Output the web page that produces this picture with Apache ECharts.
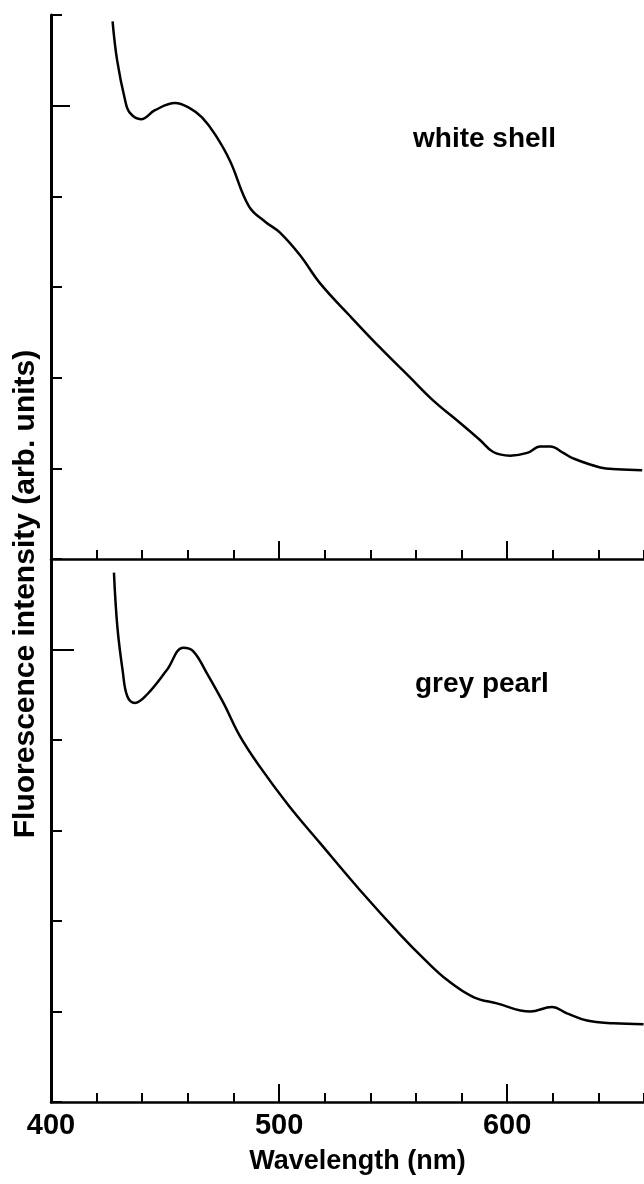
<!DOCTYPE html>
<html>
<head>
<meta charset="utf-8">
<script src="https://cdn.jsdelivr.net/npm/echarts@6/dist/echarts.min.js"></script>
<style>
  html, body { margin: 0; padding: 0; background: #fff; }
  #chart { width: 644px; height: 1184px; }
</style>
</head>
<body>
<div id="chart"></div>
<script>
// white shell spectrum (nm / arb. units)
const shellWavelength = [427, 429, 432.5, 434.6, 439.5, 445.6, 454.4, 461, 466.2, 472, 478.5, 486.8, 493.9, 500.4, 509.2, 518, 531.1, 544.3, 557.5, 567.5, 579.4, 588.2, 593.9, 601.3, 608.8, 614.5, 618.9, 624.6, 628.9, 640.8, 648.2, 659.2];
const shellIntensity = [5.93, 5.5, 5.06, 4.92, 4.85, 4.95, 5.03, 4.97, 4.87, 4.68, 4.39, 3.89, 3.72, 3.6, 3.35, 3.04, 2.68, 2.33, 2.0, 1.75, 1.5, 1.31, 1.18, 1.14, 1.17, 1.24, 1.24, 1.17, 1.11, 1.01, 0.99, 0.98];

// grey pearl spectrum
const pearlWavelength = [427.6, 429.1, 431.4, 433.5, 436.8, 442, 450.7, 458, 462.4, 468.3, 475.6, 482.9, 491.7, 504.1, 518, 535.5, 553.1, 564, 573.6, 585.2, 595.5, 610.1, 619.6, 626.2, 635, 646.6, 659.8];
const pearlIntensity = [5.85, 5.25, 4.77, 4.48, 4.41, 4.5, 4.77, 5.02, 4.98, 4.74, 4.41, 4.04, 3.7, 3.28, 2.86, 2.34, 1.85, 1.57, 1.35, 1.16, 1.09, 1.0, 1.05, 0.98, 0.9, 0.87, 0.86];

const xLabels = [400, 500, 600];
const xMajorTicks = [500, 600];
const yLongTick = [5];
const panelNames = ["white shell", "grey pearl"];

const FONT = "'Liberation Sans', Arial, Helvetica, sans-serif";
const zip = (xs, ys) => xs.map((x, i) => [x, ys[i]]);

const chart = echarts.init(document.getElementById("chart"), null, { renderer: "canvas" });

// x axis for one panel, plus an overlay axis that only draws the long ticks
const xMain = (grid, withLabels) => ({
  type: "value", gridIndex: grid, position: "bottom",
  min: 400, max: 660, interval: 20,
  axisLine: { onZero: false, lineStyle: { color: "#000", width: 2.5 } },
  axisTick: { inside: true, length: 9, lineStyle: { color: "#000", width: 2 } },
  axisLabel: withLabels
    ? { show: true, customValues: xLabels, margin: 9, color: "#000", fontSize: 29, fontWeight: "bold", fontFamily: FONT }
    : { show: false },
  splitLine: { show: false },
  name: withLabels ? "Wavelength (nm)" : "",
  nameLocation: "middle", nameGap: 46,
  nameTextStyle: { color: "#000", fontSize: 27, fontWeight: "bold", fontFamily: FONT, padding: [0, 0, 0, 20] },
});
const xMajor = (grid) => ({
  type: "value", gridIndex: grid, position: "bottom",
  min: 400, max: 660,
  axisLine: { show: false, onZero: false },
  axisTick: { inside: true, length: 18, customValues: xMajorTicks, lineStyle: { color: "#000", width: 2 } },
  axisLabel: { show: false },
  splitLine: { show: false },
});
const yMain = (grid) => ({
  type: "value", gridIndex: grid, position: "left",
  min: 0, max: 6, interval: 1,
  axisLine: { onZero: false, lineStyle: { color: "#000", width: 3 } },
  axisTick: { inside: true, length: 11, lineStyle: { color: "#000", width: 2 } },
  axisLabel: { show: false },
  splitLine: { show: false },
});
const yLong = (grid, len) => ({
  type: "value", gridIndex: grid, position: "left",
  min: 0, max: 6,
  axisLine: { show: false, onZero: false },
  axisTick: { inside: true, length: len, customValues: yLongTick, lineStyle: { color: "#000", width: 2 } },
  axisLabel: { show: false },
  splitLine: { show: false },
});

chart.setOption({
  backgroundColor: "#fff",
  animation: false,
  grid: [
    { left: 51, right: 0, top: 15, height: 544 },
    { left: 51, right: 0, top: 559, height: 543 },
  ],
  xAxis: [xMain(0, false), xMajor(0), xMain(1, true), xMajor(1)],
  yAxis: [yMain(0), yLong(0, 19), yMain(1), yLong(1, 23)],
  series: [
    {
      name: panelNames[0], type: "line", xAxisIndex: 0, yAxisIndex: 0,
      data: zip(shellWavelength, shellIntensity),
      smooth: 0.4, showSymbol: false,
      lineStyle: { color: "#000", width: 2.5 },
    },
    {
      name: panelNames[1], type: "line", xAxisIndex: 2, yAxisIndex: 2,
      data: zip(pearlWavelength, pearlIntensity),
      smooth: 0.4, showSymbol: false,
      lineStyle: { color: "#000", width: 2.5 },
    },
  ],
  graphic: [
    {
      type: "text", x: 413, y: 139,
      style: { text: panelNames[0], fill: "#000", font: "bold 28px " + FONT, verticalAlign: "middle" },
    },
    {
      type: "text", x: 415, y: 684,
      style: { text: panelNames[1], fill: "#000", font: "bold 28px " + FONT, verticalAlign: "middle" },
    },
    {
      type: "text", x: 26, y: 594, rotation: Math.PI / 2,
      style: { text: "Fluorescence intensity (arb. units)", fill: "#000", font: "bold 30px " + FONT, align: "center", verticalAlign: "middle" },
    },
  ],
});
</script>
</body>
</html>
